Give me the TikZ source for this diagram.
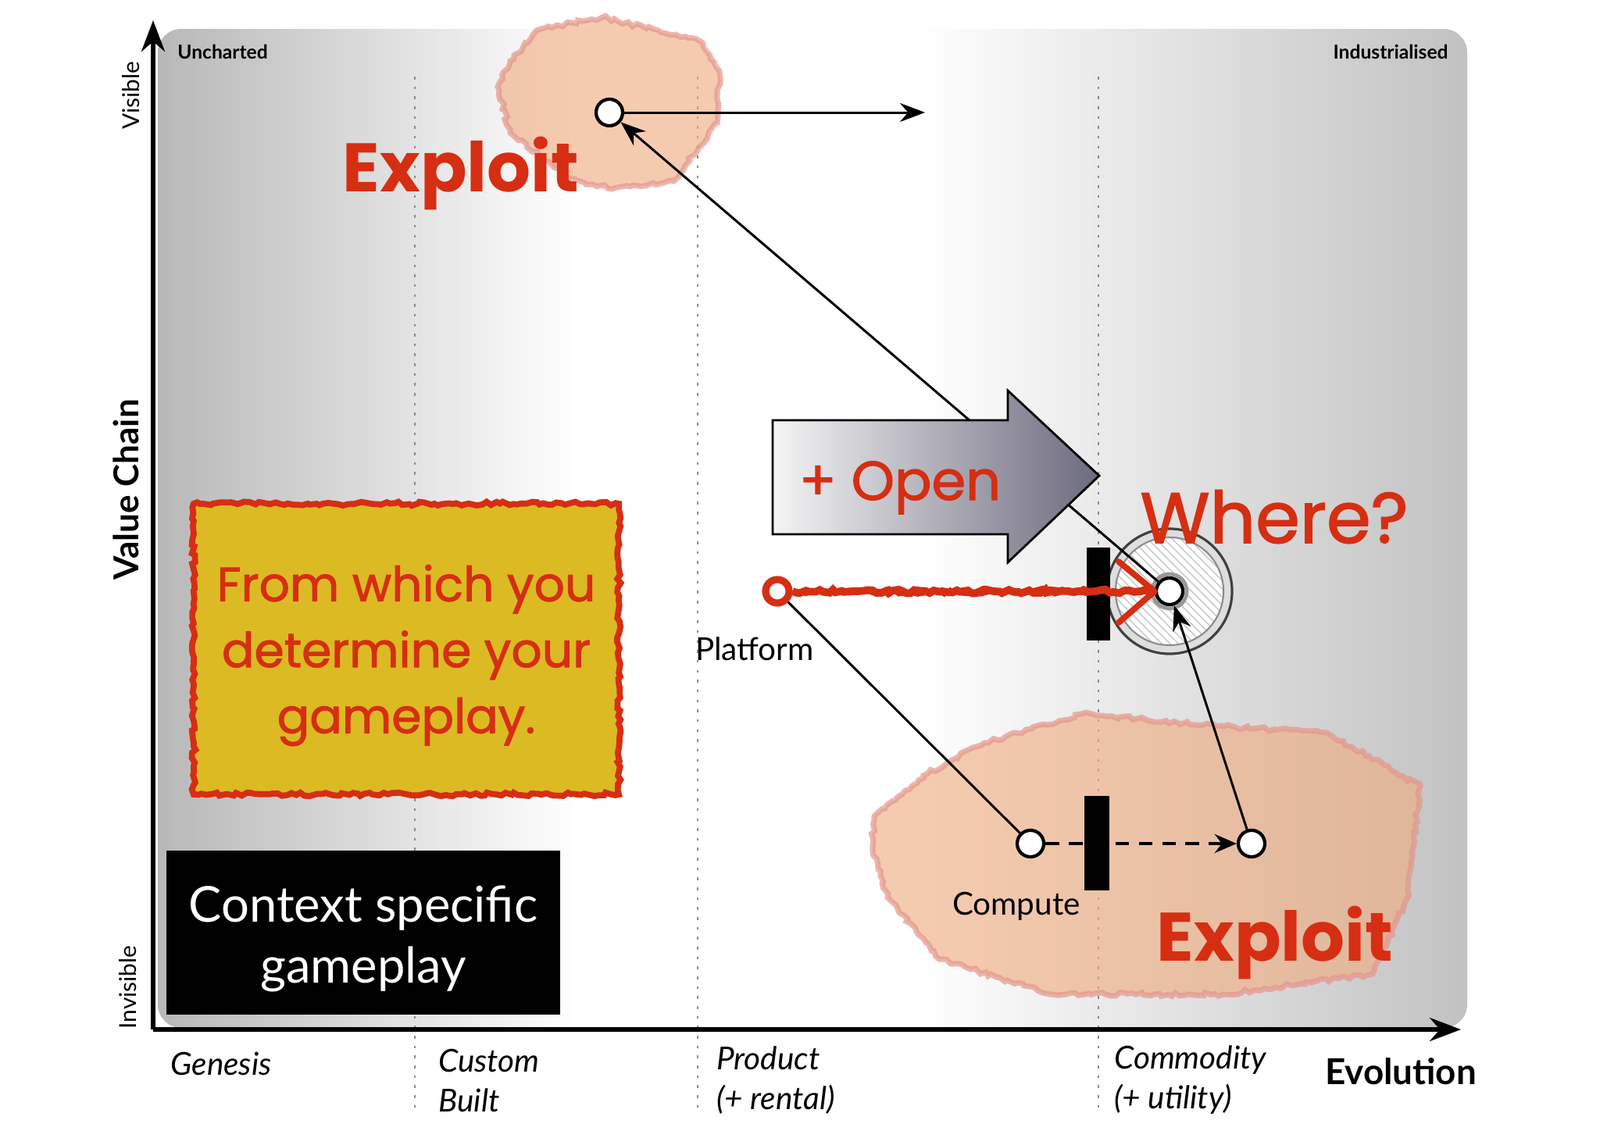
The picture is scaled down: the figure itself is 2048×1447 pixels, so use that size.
\documentclass[tikz,border=0pt]{standalone}
\usepackage{fontspec}
\setmainfont{Lato}
\newfontfamily\comicfont{Poppins}
\newfontfamily\comicthick{Poppins}[FakeBold=1.6]
\usetikzlibrary{arrows.meta,decorations.pathmorphing,patterns,calc}

\definecolor{mapred}{RGB}{214,46,18}
\definecolor{boxyellow}{RGB}{220,186,36}
\definecolor{blobfill}{RGB}{240,172,128}
\definecolor{blobedge}{RGB}{228,150,140}
\definecolor{arrowdark}{RGB}{108,106,126}

\pgfdeclarehorizontalshading{mapbg}{100bp}{color(0bp)=(black!28); color(25bp)=(black!28); color(41bp)=(white); color(54bp)=(white); color(75bp)=(black!24); color(100bp)=(black!24)}

\tikzset{
  comp/.style={circle, draw, line width=1.2pt, fill=white, minimum size=0.34cm, inner sep=0pt},
  link/.style={line width=0.85pt},
  tip/.style={-{Stealth[length=3.2mm, width=2.4mm]}},
  sketchy/.style={decorate, decoration={random steps, segment length=1.6pt, amplitude=0.7pt}},
  blob/.style={fill=blobfill, fill opacity=0.62, draw=blobedge, draw opacity=0.7, line width=2pt, sketchy},
  stage/.style={anchor=west, align=left, font=\itshape\fontsize{11.5}{14.5}\selectfont},
  bigword/.style={text=mapred, anchor=base, font=\comicfont\bfseries\fontsize{25}{30}\selectfont},
}

\begin{document}
\begin{tikzpicture}[x=0.01cm, y=-0.01cm]
  \useasboundingbox (0,0) rectangle (2048,1447);

  % Background panel
  \shade[shading=mapbg, rounded corners=0.3cm] (202,1316) rectangle (1878,37);

  % Stage separators
  \foreach \x in {531, 893, 1406} {
    \draw[black!45, line width=0.7pt, dash pattern=on 1pt off 2.6pt] (\x,98) -- (\x,1424);
  }

  % Axes
  \draw[line width=1.5pt, -{Stealth[length=4mm, width=3mm]}] (196,1318) -- (196,26);
  \draw[line width=1.5pt, -{Stealth[length=4mm, width=3mm]}] (196,1318) -- (1870,1318);

  % Axis labels
  \node[font=\bfseries\fontsize{7}{9}\selectfont, anchor=west] (uncharted) at (215,66) {Uncharted};
  \node[font=\bfseries\fontsize{7}{9}\selectfont, anchor=east] (industrial) at (1866,66) {Industrialised};
  \node[rotate=90, font=\fontsize{8.5}{10}\selectfont] (visible) at (168,122) {Visible};
  \node[rotate=90, font=\fontsize{8.5}{10}\selectfont] (invisible) at (164,1264) {Invisible};
  \node[rotate=90, font=\bfseries\fontsize{12.5}{15}\selectfont] (valuechain) at (161,627) {Value Chain};
  \node[stage] (genesis) at (206,1362) {Genesis};
  \node[stage] (custom) at (549,1383) {Custom\\Built};
  \node[stage] (product) at (905,1383) {Product\\(+ rental)};
  \node[stage] (commodity) at (1414,1383) {Commodity\\(+ utility)};
  \node[font=\bfseries\fontsize{13}{16}\selectfont] (evolution) at (1793,1372) {Evolution};

  % Exploit areas
  \path[blob] (637,111) -- (653,78) -- (692,37) -- (771,22) -- (895,52) -- (921,91)
    -- (918,157) -- (862,232) -- (784,242) -- (731,229) -- (653,170) -- cycle;
  \path[blob] (1119,1045) -- (1182,993) -- (1260,951) -- (1384,914) -- (1567,930)
    -- (1698,938) -- (1818,1006) -- (1802,1149) -- (1757,1247) -- (1567,1273)
    -- (1345,1273) -- (1202,1228) -- (1136,1149) -- (1117,1084) -- cycle;

  % Boxes
  \node[draw=mapred, fill=boxyellow, line width=2.2pt, sketchy, minimum width=5.44cm,
    minimum height=3.72cm, text=mapred, align=center,
    font=\comicthick\fontsize{17.5}{24}\selectfont] (gameplaybox) at (520,831) {};
  \node[text=mapred, align=center, font=\comicthick\fontsize{17.5}{24}\selectfont]
    (gameplaytext) at (520,839) {From which you\\determine your\\gameplay.};
  \node[fill=black, text=white, minimum width=5.04cm, minimum height=2.09cm, align=center,
    font=\fontsize{18}{22}\selectfont] (contextbox) at (465,1194) {};
  \node[text=white, align=center, font=\fontsize{18}{22}\selectfont]
    (contexttext) at (465,1202) {Context specific\\gameplay};

  % Where target
  \coordinate (target) at (1497,757);
  \draw[black!75, line width=0.9pt, fill=black!13] (target) circle[radius=0.8cm];
  \fill[white] (target) circle[radius=0.69cm];
  \fill[pattern=north west lines, pattern color=black!22] (target) circle[radius=0.69cm];
  \draw[black!45, line width=0.6pt] (target) circle[radius=0.69cm];
  \draw[black!40, line width=1.4pt] (target) circle[radius=0.22cm];

  % Components
  \node[comp] (visibleend) at (780,144) {};
  \coordinate (visiblegoal) at (1184,144);
  \node[comp] (where) at (target) {};
  \node[comp, draw=mapred, line width=2.6pt, minimum size=0.3cm] (platform) at (995,757) {};
  \node[comp] (compute) at (1319,1080) {};
  \node[comp] (utility) at (1602,1080) {};
  \node[font=\fontsize{11.5}{14}\selectfont] (platformlabel) at (966,831) {Platform};
  \node[font=\fontsize{11.5}{14}\selectfont] (computelabel) at (1301,1160) {Compute};

  % Links
  \draw[link, tip] (visibleend) -- (visiblegoal);
  \draw[link, tip] (where) -- (visibleend);

  % Open arrow
  \shade[draw=black, line width=0.8pt, left color=black!4, right color=arrowdark]
    (989,538) -- (1290,538) -- (1290,500) -- (1407,609) -- (1290,720) -- (1290,684)
    -- (989,684) -- cycle;
  \node[text=mapred, anchor=base, font=\comicthick\fontsize{20}{24}\selectfont] (open) at (1152,640) {+ Open};

  \draw[link] (platform) -- (compute);
  \draw[link, tip] (utility) -- (where);
  \draw[line width=1.3pt, dash pattern=on 5pt off 3.5pt, -{Stealth[length=2.8mm, width=2.4mm]}] (compute) -- (utility);

  % Inertia bars
  \fill (1391,701) rectangle (1421,820);
  \fill (1388,1019) rectangle (1420,1140);

  % Red scribble
  \draw[mapred, line width=2.8pt, sketchy] (platform) -- (where);
  \draw[mapred, line width=1.4pt, decorate, decoration={random steps, segment length=3pt, amplitude=1.3pt}] (platform.east) -- (where.west);
  \draw[mapred, line width=2.2pt, line join=round, line cap=round] ($(where.west)+(-46,-38)$) -- (where.west) -- ($(where.west)+(-46,40)$);

  % Big words
  \node[bigword] (exploittop) at (590,245) {Exploit};
  \node[bigword] (exploitlow) at (1632,1230) {Exploit};
  \node[bigword, font=\comicthick\fontsize{26}{30}\selectfont] (wherelabel) at (1631,695) {Where?};
\end{tikzpicture}
\end{document}
